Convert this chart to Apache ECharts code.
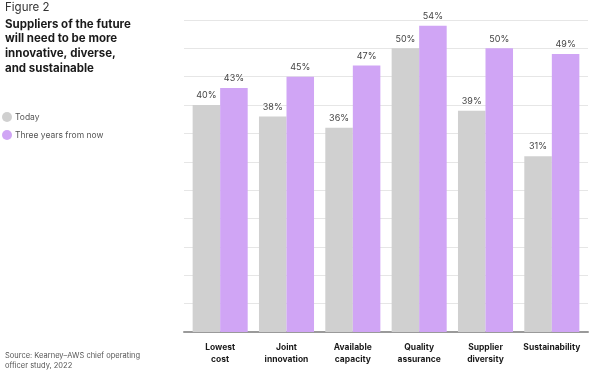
<!DOCTYPE html>
<html>
<head>
<meta charset="utf-8">
<script src="https://cdn.jsdelivr.net/npm/echarts@6/dist/echarts.min.js"></script>
<style>
html,body{margin:0;padding:0;background:#fff;}
#c{width:589px;height:370px;}
</style>
</head>
<body>
<div id="c"></div>
<script>
var categories = ["Lowest\ncost", "Joint\ninnovation", "Available\ncapacity", "Quality\nassurance", "Supplier\ndiversity", "Sustainability"];
var today = [40, 38, 36, 50, 39, 31];
var threeYears = [43, 45, 47, 54, 50, 49];
var seriesNames = ["Today", "Three years from now"];

var FONT = "Inter, 'Noto Sans', sans-serif";
var chart = echarts.init(document.getElementById('c'), null, {renderer: 'canvas'});
chart.setOption({
  animation: false,
  textStyle: {fontFamily: FONT},
  title: [
    {text: "Figure 2", left: 0, top: -3, textStyle: {fontFamily: FONT, fontSize: 11.5, fontWeight: 'normal', color: '#333'}},
    {text: "Suppliers of the future\nwill need to be more\ninnovative, diverse,\nand sustainable", left: 0, top: 12,
      textStyle: {fontFamily: FONT, fontSize: 11.5, fontWeight: 'bold', color: '#1a1a1a', lineHeight: 14.6}},
    {text: "Source: Kearney–AWS chief operating\nofficer study, 2022", left: 0, top: 346,
      textStyle: {fontFamily: FONT, fontSize: 7.5, fontWeight: 'normal', color: '#555', lineHeight: 9.5}}
  ],
  legend: {
    data: seriesNames,
    orient: 'vertical',
    left: -3,
    top: 107,
    icon: 'circle',
    itemWidth: 10,
    itemHeight: 10,
    itemGap: 8,
    textStyle: {fontFamily: FONT, fontSize: 8.5, color: '#555', padding: [0,0,0,-2]}
  },
  grid: [
    {left: 187, right: 4, top: 20, bottom: 38},
    {left: 184, right: 1, top: 20, bottom: 38}
  ],
  xAxis: [
    {type: 'category', gridIndex: 0, data: categories,
      axisLine: {show: false}, axisTick: {show: false},
      axisLabel: {fontFamily: FONT, fontSize: 8.5, fontWeight: 'bold', color: '#1a1a1a', margin: 10, lineHeight: 11.5, interval: 0}},
    {type: 'value', gridIndex: 1, min: 0, max: 1, show: true,
      axisLine: {show: true, lineStyle: {color: '#9a9a9a', width: 2}},
      axisTick: {show: false}, axisLabel: {show: false}, splitLine: {show: false}}
  ],
  yAxis: [
    {type: 'value', gridIndex: 0, min: 0, max: 55, interval: 5, show: false, splitLine: {show: false}},
    {type: 'value', gridIndex: 1, min: 0, max: 55, interval: 5,
      axisLine: {show: false}, axisTick: {show: false}, axisLabel: {show: false},
      splitLine: {show: true, lineStyle: {color: '#e6e6e6', width: 1}}}
  ],
  series: [
    {name: seriesNames[0], type: 'bar', xAxisIndex: 0, yAxisIndex: 0, data: today, barGap: '0%', barCategoryGap: '17%',
      itemStyle: {color: '#d0d0d0'}, z: 3,
      label: {show: true, position: 'top', distance: 5, formatter: '{c}%', fontFamily: FONT, fontSize: 9, color: '#444'}},
    {name: seriesNames[1], type: 'bar', xAxisIndex: 0, yAxisIndex: 0, data: threeYears, barGap: '0%', barCategoryGap: '17%',
      itemStyle: {color: '#d0a5f5'}, z: 3,
      label: {show: true, position: 'top', distance: 5, formatter: '{c}%', fontFamily: FONT, fontSize: 9, color: '#444'}}
  ]
});
</script>
</body>
</html>
